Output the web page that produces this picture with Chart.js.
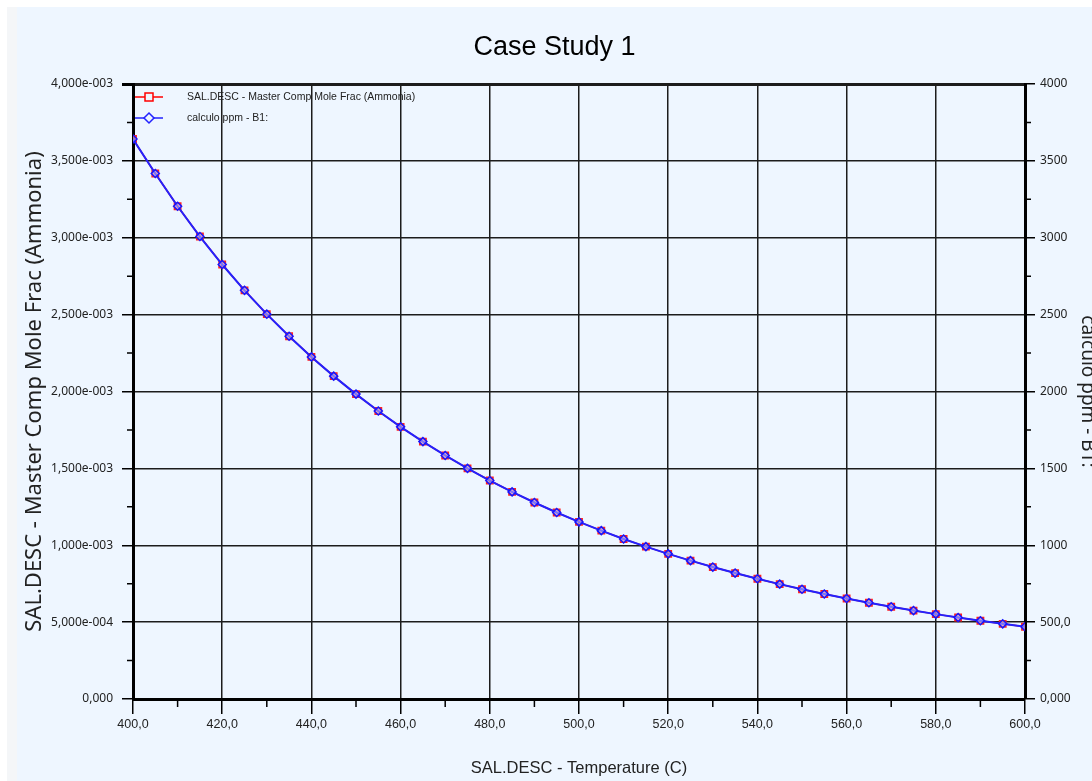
<!DOCTYPE html>
<html>
<head>
<meta charset="utf-8">
<script src="https://cdn.jsdelivr.net/npm/chart.js@4.4.0/dist/chart.umd.min.js"></script>
<style>
  html, body { margin: 0; padding: 0; background: #fff; overflow: hidden; }
  #edge { position: absolute; left: 7px; top: 7px; width: 10px; height: 774px; background: #f4f6f8; }
  #wrap { position: absolute; left: 17px; top: 7px; width: 1075px; height: 774px; background: #eef6ff; }
</style>
</head>
<body>
<div id="edge"></div>
<div id="wrap"><canvas id="case_chart" width="1075" height="774"></canvas></div>
<script>
  // Temperature (C)
  const temps = [400, 405, 410, 415, 420, 425, 430, 435, 440, 445, 450, 455, 460, 465, 470, 475, 480, 485, 490, 495,
    500, 505, 510, 515, 520, 525, 530, 535, 540, 545, 550, 555, 560, 565, 570, 575, 580, 585, 590, 595, 600];

  // SAL.DESC - Master Comp Mole Frac (Ammonia)
  const moleFrac = [0.003642, 0.003418, 0.003205, 0.003008, 0.002826, 0.002658, 0.002503, 0.002359, 0.002225, 0.002100,
    0.001983, 0.001873, 0.001770, 0.001674, 0.001584, 0.001500, 0.001421, 0.001347, 0.001278, 0.001213,
    0.001152, 0.001095, 0.001041, 0.000991, 0.000944, 0.000900, 0.000858, 0.000819, 0.000782, 0.000747,
    0.000714, 0.000683, 0.000654, 0.000626, 0.000600, 0.000575, 0.000552, 0.000530, 0.000509, 0.000489, 0.000470];

  // calculo ppm - B1:
  const ppm = [3642, 3418, 3205, 3008, 2826, 2658, 2503, 2359, 2225, 2100,
    1983, 1873, 1770, 1674, 1584, 1500, 1421, 1347, 1278, 1213,
    1152, 1095, 1041, 991, 944, 900, 858, 819, 782, 747,
    714, 683, 654, 626, 600, 575, 552, 530, 509, 489, 470];

  // tick values and labels
  const xTickValues = [400, 420, 440, 460, 480, 500, 520, 540, 560, 580, 600];
  const xTickLabels = ['400,0', '420,0', '440,0', '460,0', '480,0', '500,0', '520,0', '540,0', '560,0', '580,0', '600,0'];
  const yTickValues = [0, 0.0005, 0.001, 0.0015, 0.002, 0.0025, 0.003, 0.0035, 0.004];
  const yTickLabels = ['0,000', '5,000e-004', '1,000e-003', '1,500e-003', '2,000e-003', '2,500e-003', '3,000e-003', '3,500e-003', '4,000e-003'];
  const y2TickValues = [0, 500, 1000, 1500, 2000, 2500, 3000, 3500, 4000];
  const y2TickLabels = ['0,000', '500,0', '1000', '1500', '2000', '2500', '3000', '3500', '4000'];

  const narrow = '"Liberation Sans", Arial, sans-serif';
  const plain = '"Noto Sans", "Open Sans", sans-serif';
  const gridColor = '#1c1c1c';

  const setTicks = (values) => (scale) => {
    scale.ticks = values.map(v => ({ value: v }));
  };
  const labelFor = (values, labels) => (v) => {
    const i = values.findIndex(t => Math.abs(t - v) < 1e-9 * Math.max(1, Math.abs(t)));
    return i >= 0 ? labels[i] : '';
  };

  // minor ticks between the labelled ones
  const minorTicks = {
    id: 'minorTicks',
    afterDraw(chart) {
      const { ctx, chartArea, scales } = chart;
      ctx.save();
      ctx.strokeStyle = '#000';
      ctx.lineWidth = 1.5;
      ctx.beginPath();
      for (let i = 0; i < xTickValues.length - 1; i++) {
        const px = scales.x.getPixelForValue((xTickValues[i] + xTickValues[i + 1]) / 2);
        ctx.moveTo(px, chartArea.bottom);
        ctx.lineTo(px, chartArea.bottom + 8);
      }
      for (let i = 0; i < yTickValues.length - 1; i++) {
        const py = scales.y.getPixelForValue((yTickValues[i] + yTickValues[i + 1]) / 2);
        ctx.moveTo(chartArea.left - 6, py);
        ctx.lineTo(chartArea.left, py);
        ctx.moveTo(chartArea.right, py);
        ctx.lineTo(chartArea.right + 6, py);
      }
      ctx.stroke();
      ctx.restore();
    }
  };

  // legend inside the plot, top left
  const innerLegend = {
    id: 'innerLegend',
    afterDatasetsDraw(chart) {
      const { ctx, chartArea } = chart;
      ctx.save();
      ctx.font = '10.5px ' + narrow;
      ctx.textBaseline = 'middle';
      chart.data.datasets.forEach((ds, i) => {
        const y = chartArea.top + 13 + i * 21;
        const x0 = chartArea.left + 2;
        ctx.strokeStyle = ds.borderColor;
        ctx.lineWidth = 1.5;
        ctx.beginPath();
        ctx.moveTo(x0, y);
        ctx.lineTo(x0 + 28, y);
        ctx.stroke();
        ctx.beginPath();
        if (ds.pointStyle === 'rect') {
          ctx.rect(x0 + 10, y - 4, 8, 8);
        } else {
          ctx.moveTo(x0 + 14, y - 5);
          ctx.lineTo(x0 + 19, y);
          ctx.lineTo(x0 + 14, y + 5);
          ctx.lineTo(x0 + 9, y);
          ctx.closePath();
        }
        ctx.fillStyle = '#eef6ff';
        ctx.fill();
        ctx.stroke();
        ctx.fillStyle = '#222';
        ctx.fillText(ds.label, x0 + 52, y);
      });
      ctx.restore();
    }
  };

  const ctx = document.getElementById('case_chart').getContext('2d');
  new Chart(ctx, {
    type: 'line',
    data: {
      labels: temps,
      datasets: [
        {
          label: 'SAL.DESC - Master Comp Mole Frac (Ammonia)',
          data: temps.map((t, i) => ({ x: t, y: moleFrac[i] })),
          yAxisID: 'y',
          borderColor: '#ff0000',
          borderWidth: 1.5,
          pointStyle: 'rect',
          pointRadius: 4.5,
          pointBorderWidth: 1.5,
          pointBackgroundColor: 'rgba(255,60,60,0.6)',
          pointBorderColor: '#ff2020',
          tension: 0,
          order: 2
        },
        {
          label: 'calculo ppm - B1:',
          data: temps.map((t, i) => ({ x: t, y: ppm[i] })),
          yAxisID: 'y2',
          borderColor: '#2222ff',
          borderWidth: 2,
          pointStyle: 'rectRot',
          pointRadius: 4,
          pointBorderWidth: 1.5,
          pointBackgroundColor: 'rgba(200,200,255,0.5)',
          pointBorderColor: '#1515ff',
          tension: 0,
          order: 1
        }
      ]
    },
    options: {
      responsive: false,
      animation: false,
      layout: { padding: 0 },
      plugins: {
        legend: { display: false },
        tooltip: { enabled: false },
        title: {
          display: true,
          text: 'Case Study 1',
          color: '#000',
          font: { family: narrow, size: 27, weight: 'normal', lineHeight: 1.2 },
          padding: { top: 24, bottom: 20.6 }
        }
      },
      scales: {
        x: {
          type: 'linear',
          min: 400,
          max: 600,
          afterBuildTicks: setTicks(xTickValues),
          afterFit: (s) => { s.height = 82; },
          ticks: {
            callback: labelFor(xTickValues, xTickLabels),
            color: '#222',
            font: { family: narrow, size: 12.5 },
            padding: 3,
            maxRotation: 0
          },
          grid: { color: gridColor, lineWidth: 1.5, tickLength: 15, tickColor: '#000' },
          border: { display: true, color: '#000', width: 3 },
          title: {
            display: true,
            text: 'SAL.DESC - Temperature (C)',
            color: '#222',
            font: { family: narrow, size: 16.5 },
            padding: { top: 15, bottom: 3 }
          }
        },
        y: {
          position: 'left',
          min: 0,
          max: 0.004,
          afterBuildTicks: setTicks(yTickValues),
          afterFit: (s) => { s.width = 116; },
          ticks: {
            callback: labelFor(yTickValues, yTickLabels),
            color: '#222',
            font: { family: plain, size: 12 },
            padding: 9
          },
          grid: {
            color: gridColor,
            lineWidth: (c) => (c.tick && c.tick.value >= 0.004 ? 3 : 1.5),
            tickLength: 11,
            tickColor: '#000'
          },
          border: { display: true, color: '#000', width: 3 },
          title: {
            display: true,
            text: 'SAL.DESC - Master Comp Mole Frac (Ammonia)',
            color: '#222',
            font: { family: plain, size: 22 },
            padding: { top: 5, bottom: 0 }
          }
        },
        y2: {
          position: 'right',
          min: 0,
          max: 4000,
          afterBuildTicks: setTicks(y2TickValues),
          afterFit: (s) => { s.width = 67; },
          ticks: {
            callback: labelFor(y2TickValues, y2TickLabels),
            color: '#222',
            font: { family: plain, size: 12 },
            padding: 5
          },
          grid: { drawOnChartArea: false, tickLength: 10, tickColor: '#000', lineWidth: 1.5 },
          border: { display: true, color: '#000', width: 3 },
          title: {
            display: true,
            text: 'calculo ppm - B1:',
            color: '#222',
            font: { family: plain, size: 19 },
            padding: { top: -7, bottom: 0 }
          }
        }
      }
    },
    plugins: [minorTicks, innerLegend]
  });
</script>
</body>
</html>
